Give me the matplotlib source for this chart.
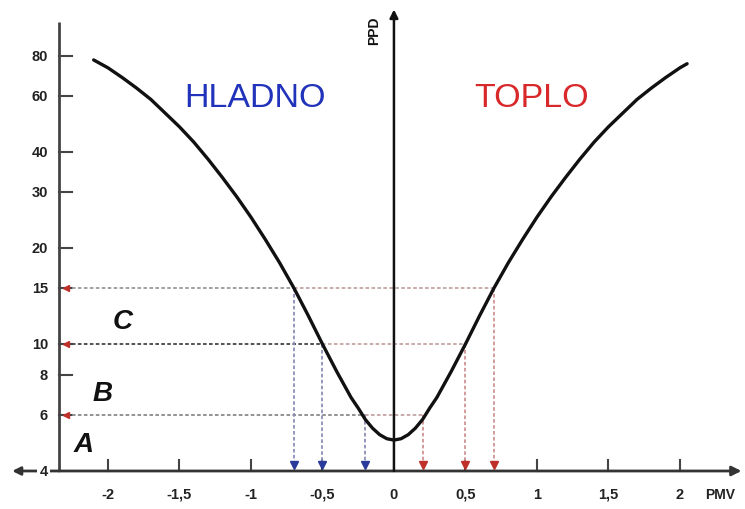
import numpy as np
import matplotlib
matplotlib.use('Agg')
import matplotlib.pyplot as plt

plt.rcParams['font.family'] = ['Liberation Sans', 'DejaVu Sans']

# PMV-PPD curve
pmv = [-2.1, -2.0, -1.9, -1.8, -1.7, -1.6, -1.5, -1.4, -1.3, -1.2, -1.1,
       -1.0, -0.9, -0.8, -0.7, -0.6, -0.5, -0.4, -0.3, -0.25, -0.2, -0.15,
       -0.1, -0.05, 0.0, 0.05, 0.1, 0.15, 0.2, 0.25, 0.3, 0.4, 0.5, 0.6,
       0.7, 0.8, 0.9, 1.0, 1.1, 1.2, 1.3, 1.4, 1.5, 1.6, 1.7, 1.8, 1.9,
       2.0, 2.05]
ppd = [77.8, 73.5, 68.5, 63.5, 58.5, 53.0, 48.0, 43.0, 38.0, 33.3, 29.0,
       25.0, 21.3, 18.0, 15.0, 12.3, 10.0, 8.2, 6.8, 6.3, 5.8, 5.45,
       5.2, 5.05, 5.0, 5.05, 5.2, 5.45, 5.8, 6.3, 6.8, 8.2, 10.0, 12.3,
       15.0, 18.0, 21.3, 25.0, 29.0, 33.3, 38.0, 43.0, 48.0, 53.0, 58.5,
       63.5, 68.5, 73.5, 75.7]

# comfort categories: PPD limit and PMV range
cat_names = ['A', 'B', 'C']
cat_ppd = [6, 10, 15]
cat_pmv = [0.2, 0.5, 0.7]

y_ticks = [6, 8, 10, 15, 20, 30, 40, 60, 80]
x_ticks = [-2, -1.5, -1, -0.5, 0.5, 1, 1.5, 2]
x_labels = ['-2', '-1,5', '-1', '-0,5', '0,5', '1', '1,5', '2']

fig = plt.figure(figsize=(7.45, 5.1), dpi=100)
ax = fig.add_axes([0, 0, 1, 1])
ax.set_yscale('log')
ax.set_xlim(-2.755, 2.455)
ax.set_ylim(3.04, 120.8)
ax.axis('off')

axis_col = '#333333'
x_left = -2.34

# left axis with ticks
ax.plot([x_left, x_left], [4, 102], color='#444444', lw=2, solid_capstyle='butt')
for t in y_ticks:
    ax.plot([x_left, x_left + 0.09], [t, t], color='#444444', lw=1.5)
    ax.text(-2.42, t, str(t), ha='right', va='center', fontsize=10.5,
            fontweight='bold', color='#222222')

# horizontal axis, arrows both ways
ax.annotate('', xy=(2.43, 4), xytext=(x_left, 4),
            arrowprops=dict(arrowstyle='-|>', lw=2, color=axis_col,
                            mutation_scale=14, shrinkA=0, shrinkB=0))
ax.annotate('', xy=(-2.67, 4), xytext=(x_left, 4),
            arrowprops=dict(arrowstyle='-|>', lw=2, color=axis_col,
                            mutation_scale=12, shrinkA=0, shrinkB=0))
ax.text(-2.42, 4, '4', ha='right', va='center', fontsize=10.5, fontweight='bold',
        color='#222222', zorder=5,
        bbox=dict(boxstyle='square,pad=0.15', fc='white', ec='none'))
for t, lab in zip(x_ticks, x_labels):
    ax.plot([t, t], [4, 4.33], color='#444444', lw=1.5)
    ax.text(t, 3.39, lab, ha='center', va='center', fontsize=10.5,
            fontweight='bold', color='#222222')
ax.text(0, 3.39, '0', ha='center', va='center', fontsize=10.5,
        fontweight='bold', color='#222222')
ax.text(2.28, 3.39, 'PMV', ha='center', va='center', fontsize=10,
        fontweight='bold', color='#222222')

# PPD axis at PMV = 0
ax.annotate('', xy=(0, 112), xytext=(0, 4),
            arrowprops=dict(arrowstyle='-|>', lw=1.8, color='#111111',
                            mutation_scale=12, shrinkA=0, shrinkB=0))
ax.text(-0.14, 97, 'PPD', rotation=90, ha='center', va='center', fontsize=10,
        fontweight='bold', color='#111111')

# dotted guide lines
dots = (0, (2, 1.3))
left_cols = ['#8a8a8a', '#444444', '#9a9a9a']
for p, m, lc in zip(cat_ppd, cat_pmv, left_cols):
    ax.plot([-2.29, -m], [p, p], color=lc, lw=1.3, linestyle=dots)
    ax.plot([-m, m], [p, p], color='#c4a4a4', lw=1.3, linestyle=dots)
    ax.plot([-2.29], [p], marker='<', color='#c0302a', ms=5, linestyle='none')
    ax.plot([-m, -m], [p, 4.1], color='#8c90b8', lw=1.3, linestyle=dots)
    ax.plot([m, m], [p, 4.1], color='#d09494', lw=1.3, linestyle=dots)
    ax.plot([-m], [4.17], marker='v', color='#2a3a9a', ms=5.5, linestyle='none')
    ax.plot([m], [4.17], marker='v', color='#c0302a', ms=5.5, linestyle='none')

# the curve
ax.plot(pmv, ppd, color='#111111', lw=2.4, solid_capstyle='round',
        solid_joinstyle='round', zorder=4)

# category letters
letter_pos = [(-2.17, 4.85), (-2.04, 7.0), (-1.9, 11.8)]
for name, (lx, ly) in zip(cat_names, letter_pos):
    ax.text(lx, ly, name, ha='center', va='center', fontsize=20,
            fontweight='bold', fontstyle='italic', color='#111111')

ax.text(-0.972, 59.5, 'HLADNO', ha='center', va='center', fontsize=24.5,
        color='#2233bb')
ax.text(0.965, 59.5, 'TOPLO', ha='center', va='center', fontsize=24.5,
        color='#d8282a')

fig.savefig('out.png', dpi=100)
